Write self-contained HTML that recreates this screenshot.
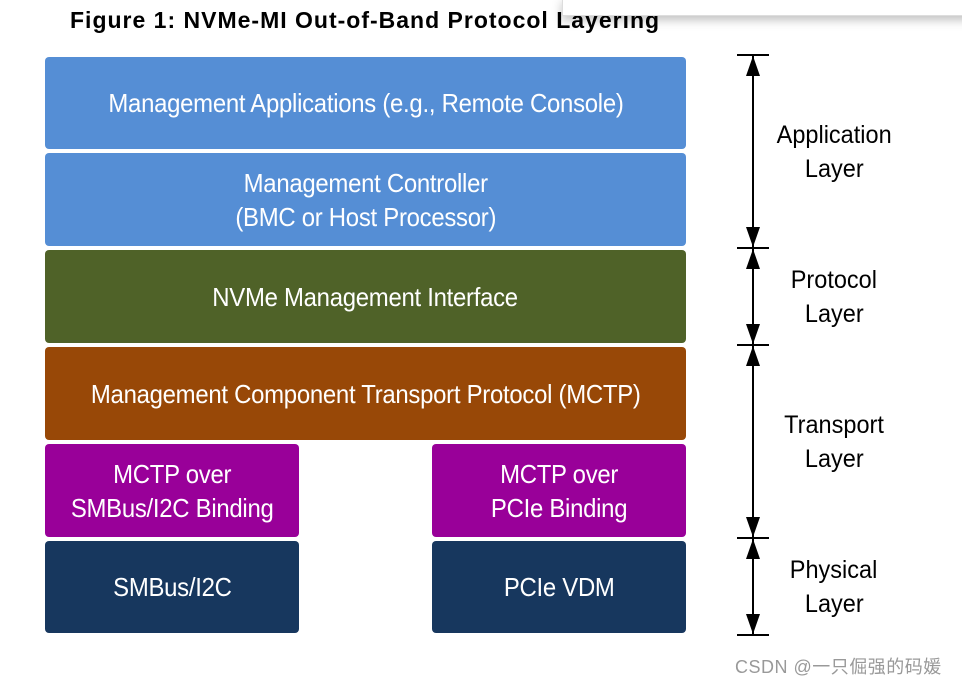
<!DOCTYPE html>
<html><head><style>
body{margin:0;width:962px;height:683px;background:#fff;position:relative;overflow:hidden;font-family:"Liberation Sans",sans-serif}
.b{position:absolute;border-radius:4px;color:#fff;display:flex;align-items:center;justify-content:center;text-align:center}
.b span{display:block;font-size:26px;line-height:34px;transform:scaleX(0.92);white-space:nowrap;letter-spacing:-0.3px}
.l{position:absolute;font-size:25px;line-height:34px;text-align:center;width:140px;color:#000}
.l span{display:inline-block;transform:scaleX(0.94)}
</style></head><body>
<div style="position:absolute;left:70px;top:7px;font-weight:bold;font-size:23px;letter-spacing:1px;white-space:nowrap">Figure 1: NVMe-MI Out-of-Band Protocol Layering</div>
<div style="position:absolute;left:562px;top:-2px;width:410px;height:16px;background:#fff;border:1px solid #ddd;box-shadow:0 4px 10px rgba(0,0,0,0.25)"></div>
<div class="b" style="left:45px;top:57px;width:641px;height:92px;background:#558ed5"><span>Management Applications (e.g., Remote Console)</span></div>
<div class="b" style="left:45px;top:153px;width:641px;height:93px;background:#558ed5"><span>Management Controller<br>(BMC or Host Processor)</span></div>
<div class="b" style="left:45px;top:250px;width:641px;height:93px;background:#4f6228"><span>NVMe Management Interface</span></div>
<div class="b" style="left:45px;top:347px;width:641px;height:93px;background:#984807"><span>Management Component Transport Protocol (MCTP)</span></div>
<div class="b" style="left:45px;top:444px;width:254px;height:93px;background:#990099"><span>MCTP over<br>SMBus/I2C Binding</span></div>
<div class="b" style="left:432px;top:444px;width:254px;height:93px;background:#990099"><span>MCTP over<br>PCIe Binding</span></div>
<div class="b" style="left:45px;top:541px;width:254px;height:92px;background:#17375e"><span>SMBus/I2C</span></div>
<div class="b" style="left:432px;top:541px;width:254px;height:92px;background:#17375e"><span>PCIe VDM</span></div>
<svg style="position:absolute;left:0;top:0" width="962" height="683">
<g stroke="#000" stroke-width="2">
<line x1="737" y1="55" x2="769" y2="55"/><line x1="737" y1="248" x2="769" y2="248"/><line x1="737" y1="345" x2="769" y2="345"/><line x1="737" y1="538" x2="769" y2="538"/><line x1="737" y1="635" x2="769" y2="635"/>
<line x1="753" y1="55" x2="753" y2="635"/></g>
<g fill="#000">
<path d="M753 56l-7 20h14z"/><path d="M753 247l-7-20h14z"/>
<path d="M753 249l-7 20h14z"/><path d="M753 344l-7-20h14z"/>
<path d="M753 346l-7 20h14z"/><path d="M753 537l-7-20h14z"/>
<path d="M753 539l-7 20h14z"/><path d="M753 634l-7-20h14z"/>
</g></svg>
<div class="l" style="left:764px;top:118px"><span>Application</span><br><span>Layer</span></div>
<div class="l" style="left:764px;top:263px"><span>Protocol</span><br><span>Layer</span></div>
<div class="l" style="left:764px;top:408px"><span>Transport</span><br><span>Layer</span></div>
<div class="l" style="left:764px;top:553px"><span>Physical</span><br><span>Layer</span></div>
<div style="position:absolute;left:735px;top:653px;font-size:18px;letter-spacing:0.5px;color:#999;white-space:nowrap;font-family:'Liberation Sans','Noto Sans CJK SC',sans-serif">CSDN @一只倔强的码媛</div>
</body></html>
